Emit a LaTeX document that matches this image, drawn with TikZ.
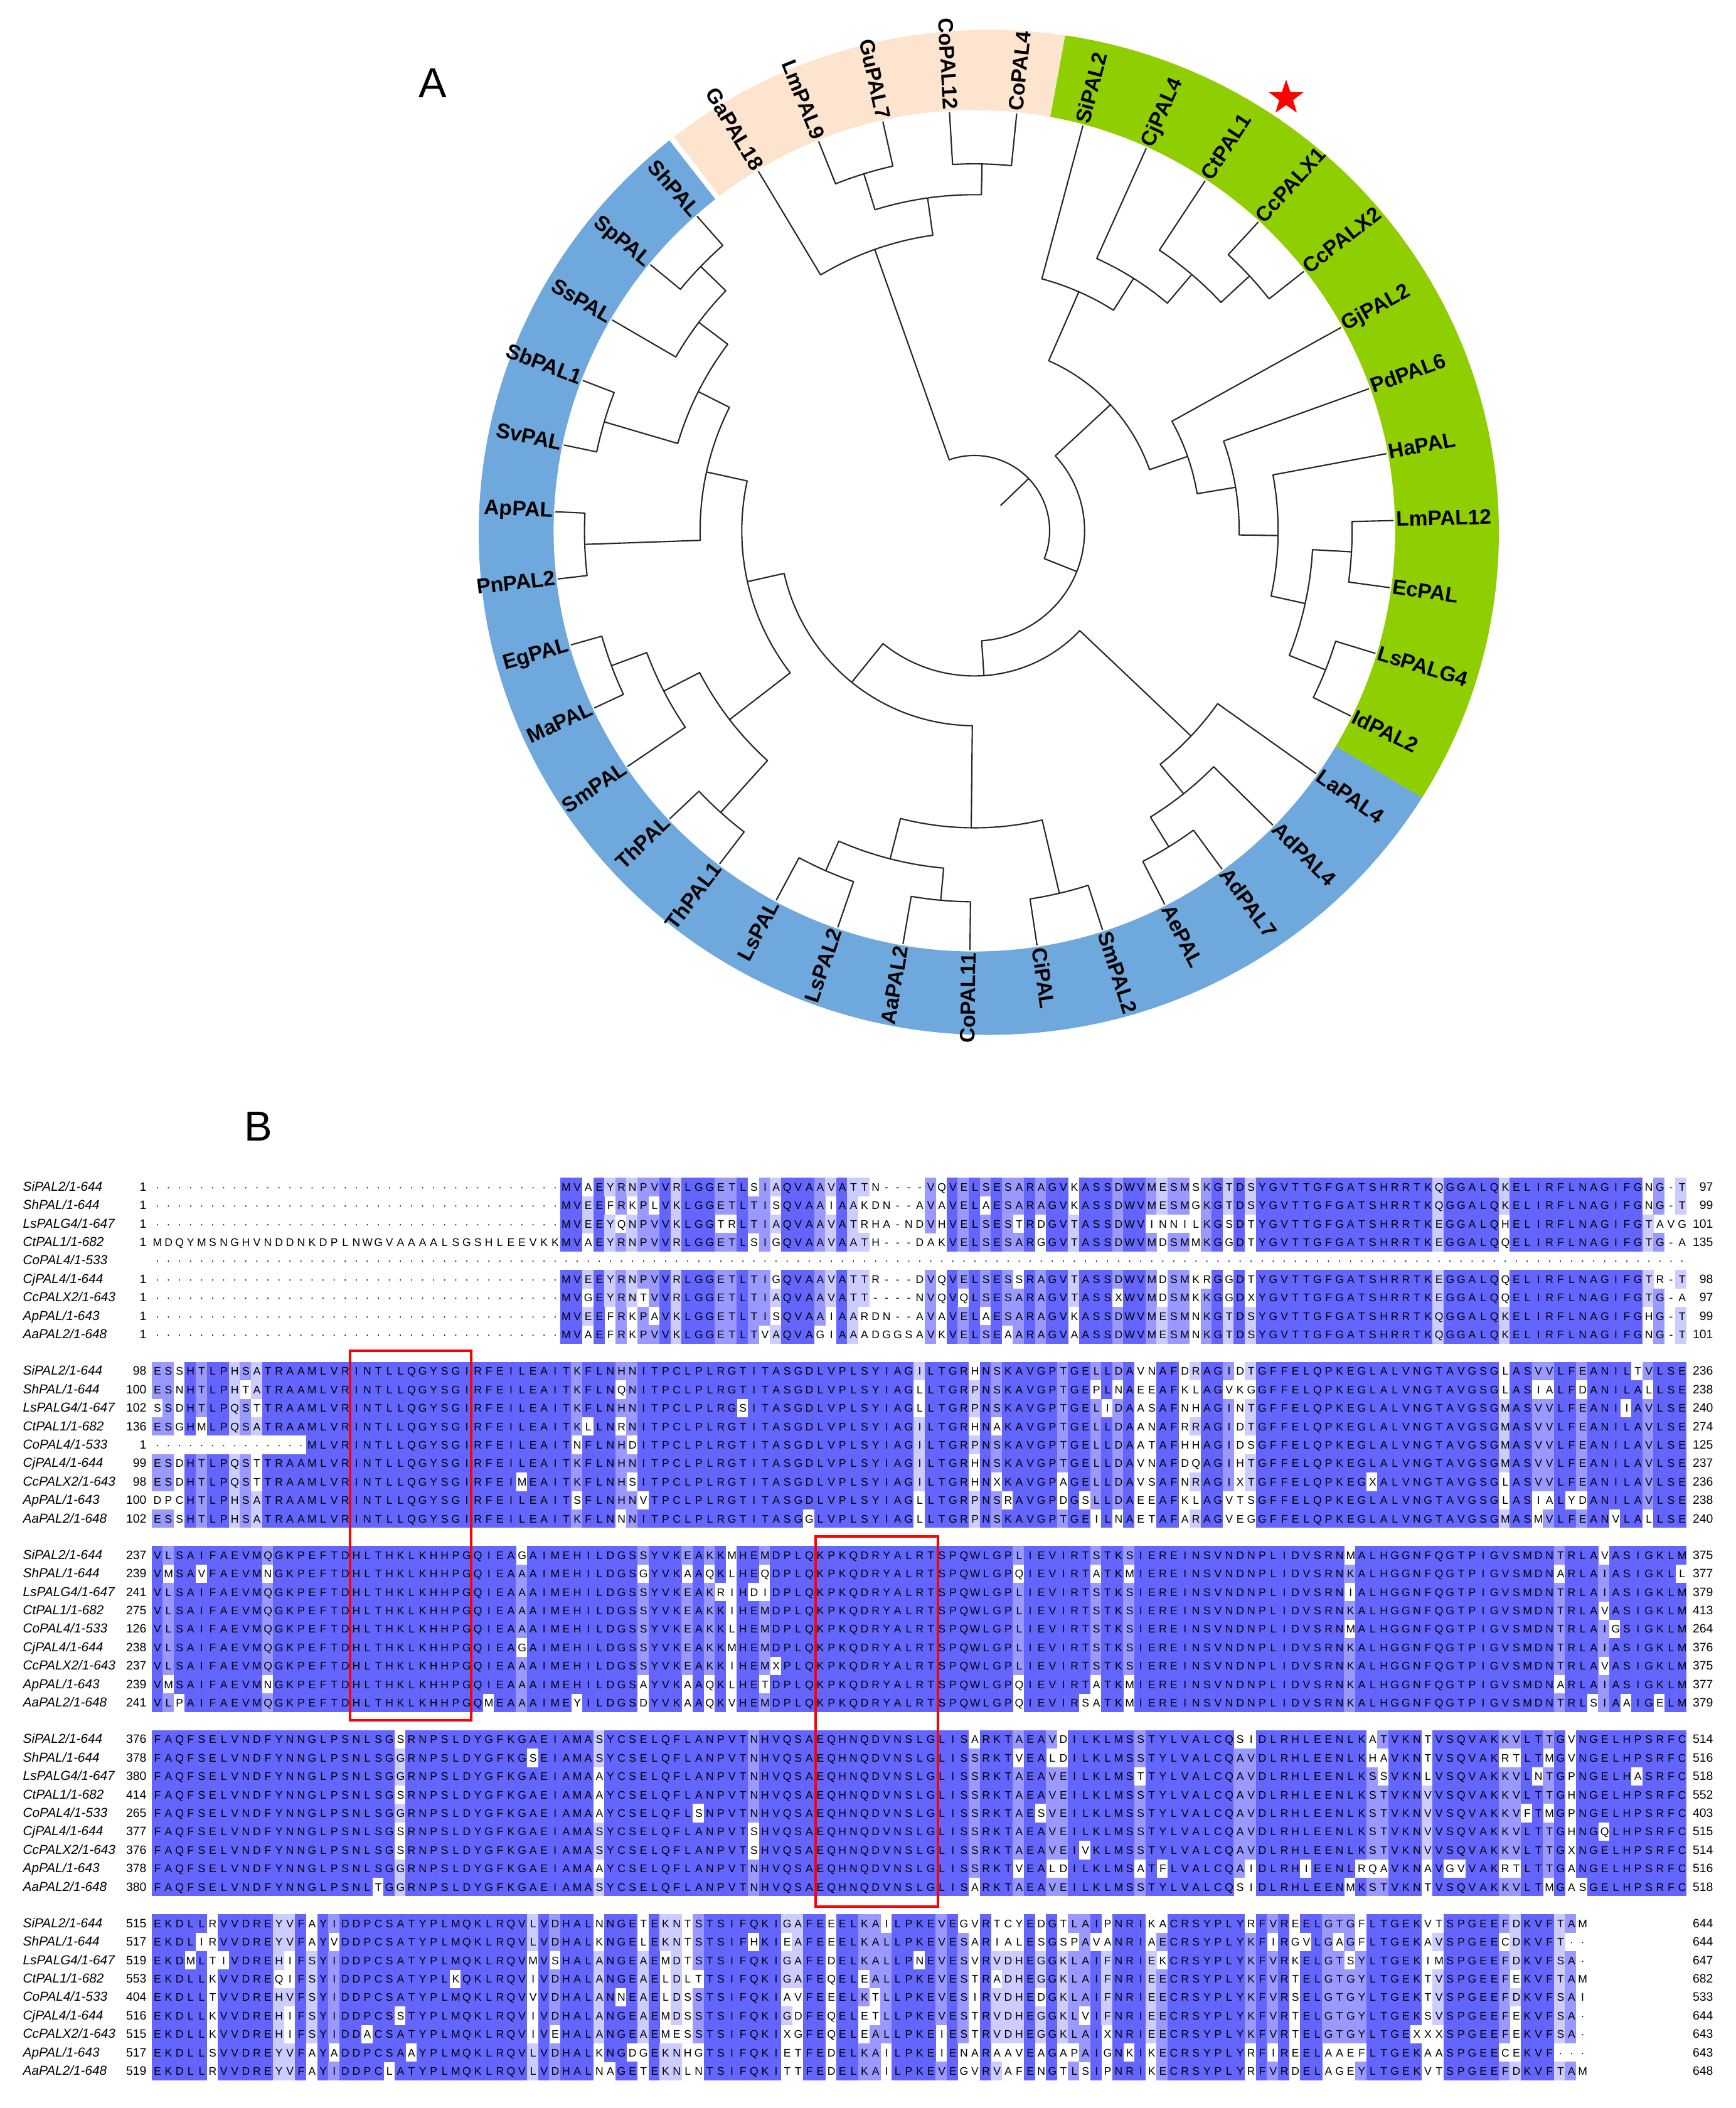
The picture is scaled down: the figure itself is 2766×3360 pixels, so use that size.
\documentclass[tikz,border=0pt]{standalone}
\usepackage{fontspec}
\setmainfont{Liberation Sans}
\usetikzlibrary{shapes.geometric}

\definecolor{pidA}{RGB}{100,100,255}
\definecolor{pidB}{RGB}{153,153,255}
\definecolor{pidC}{RGB}{204,204,255}
\definecolor{ringO}{RGB}{252,228,206}
\definecolor{ringG}{RGB}{143,206,0}
\definecolor{ringB}{RGB}{111,168,220}

\ExplSyntaxOn
\int_new:N \l_aln_i_int
\int_new:N \l_aln_cnt_int
\int_new:N \l_aln_max_int
\int_new:N \l_aln_col_int
\int_new:N \l_aln_run_int
\int_new:N \l_aln_rs_int
\tl_new:N \l_aln_cmd_tl
\tl_new:N \l_aln_seq_tl
\tl_new:N \l_aln_c_tl
\tl_new:N \l_aln_r_tl
\tl_new:N \l_aln_s_tl
\dim_new:N \l_aln_pitch_dim
\dim_set:Nn \l_aln_pitch_dim {0.176cm}
\fp_const:Nn \c_aln_xzero_fp {241.5}
\fp_const:Nn \c_aln_pitch_fp {17.6}
\fp_const:Nn \c_aln_rowh_fp {29.4}

\cs_new:Npn \GapDots #1 { \prg_replicate:nn {#1} {.} }

\cs_new_protected:Npn \aln_set:nnn #1#2#3
  {
    \tl_set:Nx \l_aln_seq_tl {#3}
    \int_zero:N \l_aln_i_int
    \tl_map_inline:Nn \l_aln_seq_tl
      {
        \int_incr:N \l_aln_i_int
        \cs_gset_nopar:cpn { aln@#1@#2@ \int_use:N \l_aln_i_int } {##1}
      }
  }
\NewDocumentCommand \AlnSet {mmm} { \aln_set:nnn {#1}{#2}{#3} }

\cs_new:Npn \aln_ch:nnn #1#2#3 { \cs:w aln@#1@#2@#3 \cs_end: }

\prg_new_conditional:Npnn \aln_if_gap:n #1 { T, F, TF }
  {
    \str_if_eq:eeTF {#1} {.} { \prg_return_true: }
      { \str_if_eq:eeTF {#1} {-} { \prg_return_true: } { \prg_return_false: } }
  }

\cs_new_protected:Npn \aln_compute:nn #1#2
  {
    \int_step_variable:nNn {#2} \l_aln_c_tl
      {
        \int_zero:N \l_aln_max_int
        \int_step_variable:nNn {9} \l_aln_r_tl
          {
            \int_zero:N \l_aln_cnt_int
            \aln_if_gap:nF { \aln_ch:nnn {#1} {\l_aln_r_tl} {\l_aln_c_tl} }
              {
                \int_step_variable:nNn {9} \l_aln_s_tl
                  {
                    \str_if_eq:eeT
                      { \aln_ch:nnn {#1} {\l_aln_r_tl} {\l_aln_c_tl} }
                      { \aln_ch:nnn {#1} {\l_aln_s_tl} {\l_aln_c_tl} }
                      { \int_incr:N \l_aln_cnt_int }
                  }
              }
            \cs_gset_nopar:cpx { alncnt@ \l_aln_r_tl } { \int_use:N \l_aln_cnt_int }
            \int_compare:nNnT { \l_aln_cnt_int } > { \l_aln_max_int }
              { \int_set_eq:NN \l_aln_max_int \l_aln_cnt_int }
          }
        \int_step_variable:nNn {9} \l_aln_r_tl
          {
            \int_zero:N \l_aln_col_int
            \int_compare:nNnT { \use:c { alncnt@ \l_aln_r_tl } } = { \l_aln_max_int }
              {
                \int_set:Nn \l_aln_col_int
                  {
                    \int_compare:nNnTF { \l_aln_max_int } > { 7 } { 1 }
                      {
                        \int_compare:nNnTF { \l_aln_max_int } > { 5 } { 2 }
                          { \int_compare:nNnTF { \l_aln_max_int } > { 3 } { 3 } { 0 } }
                      }
                  }
              }
            \cs_gset_nopar:cpx { alncol@#1@ \l_aln_r_tl @ \l_aln_c_tl } { \int_use:N \l_aln_col_int }
          }
      }
  }

\cs_new_protected:Npn \aln_fill:nnnn #1#2#3#4
  {
    \tl_set:Nx \l_aln_cmd_tl
      {
        \exp_not:N \fill [ \int_case:nn {#1} { {1}{pidA} {2}{pidB} {3}{pidC} } ]
          ( \fp_eval:n { \c_aln_xzero_fp + (#2 - 1) * \c_aln_pitch_fp } ,
            \fp_eval:n { #4 - 14.75 } )
          rectangle
          ( \fp_eval:n { \c_aln_xzero_fp + (#3 - 1) * \c_aln_pitch_fp + 0.4 } ,
            \fp_eval:n { #4 + 14.75 } ) ;
      }
    \tl_use:N \l_aln_cmd_tl
  }

\cs_new_protected:Npn \aln_bg:nnn #1#2#3
  {
    \int_step_variable:nNn {9} \l_aln_r_tl
      {
        \int_zero:N \l_aln_run_int
        \int_set:Nn \l_aln_rs_int {1}
        \int_step_variable:nNn {#2+1} \l_aln_c_tl
          {
            \int_compare:nNnTF { \l_aln_c_tl } > {#2}
              { \int_zero:N \l_aln_col_int }
              { \int_set:Nn \l_aln_col_int { \use:c { alncol@#1@ \l_aln_r_tl @ \l_aln_c_tl } } }
            \int_compare:nNnF { \l_aln_col_int } = { \l_aln_run_int }
              {
                \int_compare:nNnF { \l_aln_run_int } = { 0 }
                  {
                    \aln_fill:nnnn { \l_aln_run_int } { \l_aln_rs_int } { \l_aln_c_tl }
                      { #3 + ( \l_aln_r_tl - 1 ) * \c_aln_rowh_fp }
                  }
                \int_set_eq:NN \l_aln_run_int \l_aln_col_int
                \int_set:Nn \l_aln_rs_int { \l_aln_c_tl }
              }
          }
      }
  }
\NewDocumentCommand \AlnBlock {mmm} { \aln_compute:nn {#1}{#2} \aln_bg:nnn {#1}{#2}{#3} }

\cs_new:Npn \aln_glyph:n #1 { \str_if_eq:nnTF {#1} {.} { \char"B7 } {#1} }
\cs_new_protected:Npn \aln_text:nnn #1#2#3
  {
    \int_step_inline:nn {#3}
      {
        \hbox_to_wd:nn { \l_aln_pitch_dim }
          { \hfil \exp_args:Ne \aln_glyph:n { \aln_ch:nnn {#1} {#2} {##1} } \hfil }
      }
  }
\NewDocumentCommand \AlnText {mmm} { \aln_text:nnn {#1}{#2}{#3} }
\ExplSyntaxOff

% ---------------- sequences ----------------
\AlnSet{1}{1}{\GapDots{37}MVAEYRNPVVRLGGETLSIAQVAAVATTN----VQVELSESARAGVKASSDWVMESMSKGTDSYGVTTGFGATSHRRTKQGGALQKELIRFLNAGIFGNG-T}
\AlnSet{1}{2}{\GapDots{37}MVEEFRKPLVKLGGETLTISQVAAIAAKDN--AVAVELAESARAGVKASSDWVMESMGKGTDSYGVTTGFGATSHRRTKQGGALQKELIRFLNAGIFGNG-T}
\AlnSet{1}{3}{\GapDots{37}MVEEYQNPVVKLGGTRLTIAQVAAVATRHA-NDVHVELSESTRDGVTASSDWVINNILKGSDTYGVTTGFGATSHRRTKEGGALQHELIRFLNAGIFGTAVG}
\AlnSet{1}{4}{MDQYMSNGHVNDDNKDPLNWGVAAAALSGSHLEEVKKMVAEYRNPVVRLGGETLSIGQVAAVAATH---DAKVELSESARGGVTASSDWVMDSMMKGGDTYGVTTGFGATSHRRTKEGGALQQELIRFLNAGIFGTG-A}
\AlnSet{1}{5}{\GapDots{139}}
\AlnSet{1}{6}{\GapDots{37}MVEEYRNPVVRLGGETLTIGQVAAVATTR---DVQVELSESSRAGVTASSDWVMDSMKRGGDTYGVTTGFGATSHRRTKEGGALQQELIRFLNAGIFGTR-T}
\AlnSet{1}{7}{\GapDots{37}MVGEYRNTVVRLGGETLTIAQVAAVATT----NVQVQLSESARAGVTASSXWVMDSMKKGGDXYGVTTGFGATSHRRTKEGGALQQELIRFLNAGIFGTG-A}
\AlnSet{1}{8}{\GapDots{37}MVEEFRKPAVKLGGETLTISQVAAIAARDN--AVAVELAESARAGVKASSDWVMESMNKGTDSYGVTTGFGATSHRRTKQGGALQKELIRFLNAGIFGHG-T}
\AlnSet{1}{9}{\GapDots{37}MVAEFRKPVVKLGGETLTVAQVAGIAAADGGSAVKVELSEAARAGVAASSDWVMESMNKGTDSYGVTTGFGATSHRRTKQGGALQKELIRFLNAGIFGNG-T}

\AlnSet{2}{1}{ESSHTLPHSATRAAMLVRINTLLQGYSGIRFEILEAITKFLNHNITPCLPLRGTITASGDLVPLSYIAGILTGRHNSKAVGPTGELLDAVNAFDRAGIDTGFFELQPKEGLALVNGTAVGSGLASVVLFEANILTVLSE}
\AlnSet{2}{2}{ESNHTLPHTATRAAMLVRINTLLQGYSGIRFEILEAITKFLNQNITPCLPLRGTITASGDLVPLSYIAGLLTGRPNSKAVGPTGEPLNAEEAFKLAGVKGGFFELQPKEGLALVNGTAVGSGLASIALFDANILALLSE}
\AlnSet{2}{3}{SSDHTLPQSTTRAAMLVRINTLLQGYSGIRFEILEAITKFLNHNITPCLPLRGSITASGDLVPLSYIAGLLTGRPNSKAVGPTGELIDAASAFNHAGINTGFFELQPKEGLALVNGTAVGSGMASVVLFEANIIAVLSE}
\AlnSet{2}{4}{ESGHMLPQSATRAAMLVRINTLLQGYSGIRFEILEAITKLLNRNITPCLPLRGTITASGDLVPLSYIAGILTGRHNAKAVGPTGELLDAANAFRRAGIDTGFFELQPKEGLALVNGTAVGSGMASVVLFEANILAVLSE}
\AlnSet{2}{5}{\GapDots{14}MLVRINTLLQGYSGIRFEILEAITNFLNHDITPCLPLRGTITASGDLVPLSYIAGILTGRPNSKAVGPTGELLDAATAFHHAGIDSGFFELQPKEGLALVNGTAVGSGMASVVLFEANILAVLSE}
\AlnSet{2}{6}{ESDHTLPQSTTRAAMLVRINTLLQGYSGIRFEILEAITKFLNHNITPCLPLRGTITASGDLVPLSYIAGILTGRHNSKAVGPTGELLDAVNAFDQAGIHTGFFELQPKEGLALVNGTAVGSGMASVVLFEANILAVLSE}
\AlnSet{2}{7}{ESDHTLPQSTTRAAMLVRINTLLQGYSGIRFEIMEAITKFLNHSITPCLPLRGTITASGDLVPLSYIAGILTGRHNXKAVGPAGELLDAVSAFNRAGIXTGFFELQPKEGXALVNGTAVGSGLASVVLFEANILAVLSE}
\AlnSet{2}{8}{DPCHTLPHSATRAAMLVRINTLLQGYSGIRFEILEAITSFLNHNVTPCLPLRGTITASGDLVPLSYIAGLLTGRPNSRAVGPDGSLLDAEEAFKLAGVTSGFFELQPKEGLALVNGTAVGSGLASIALYDANILAVLSE}
\AlnSet{2}{9}{ESSHTLPHSATRAAMLVRINTLLQGYSGIRFEILEAITKFLNNNITPCLPLRGTITASGGLVPLSYIAGLLTGRPNSKAVGPTGEILNAETAFARAGVEGGFFELQPKEGLALVNGTAVGSGMASMVLFEANVLALLSE}

\AlnSet{3}{1}{VLSAIFAEVMQGKPEFTDHLTHKLKHHPGQIEAGAIMEHILDGSSYVKEAKKMHEMDPLQKPKQDRYALRTSPQWLGPLIEVIRTSTKSIEREINSVNDNPLIDVSRNMALHGGNFQGTPIGVSMDNTRLAVASIGKLM}
\AlnSet{3}{2}{VMSAVFAEVMNGKPEFTDHLTHKLKHHPGQIEAAAIMEHILDGSGYVKAAQKLHEQDPLQKPKQDRYALRTSPQWLGPQIEVIRTATKMIEREINSVNDNPLIDVSRNKALHGGNFQGTPIGVSMDNARLAIASIGKLL}
\AlnSet{3}{3}{VLSAIFAEVMQGKPEFTDHLTHKLKHHPGQIEAAAIMEHILDGSSYVKEAKRIHDIDPLQKPKQDRYALRTSPQWLGPLIEVIRTSTKSIEREINSVNDNPLIDVSRNIALHGGNFQGTPIGVSMDNTRLAIASIGKLM}
\AlnSet{3}{4}{VLSAIFAEVMQGKPEFTDHLTHKLKHHPGQIEAAAIMEHILDGSSYVKEAKKIHEMDPLQKPKQDRYALRTSPQWLGPLIEVIRTSTKSIEREINSVNDNPLIDVSRNKALHGGNFQGTPIGVSMDNTRLAVASIGKLM}
\AlnSet{3}{5}{VLSAIFAEVMQGKPEFTDHLTHKLKHHPGQIEAAAIMEHILDGSSYVKEAKKLHEMDPLQKPKQDRYALRTSPQWLGPLIEVIRTSTKSIEREINSVNDNPLIDVSRNMALHGGNFQGTPIGVSMDNTRLAIGSIGKLM}
\AlnSet{3}{6}{VLSAIFAEVMQGKPEFTDHLTHKLKHHPGQIEAGAIMEHILDGSSYVKEAKKMHEMDPLQKPKQDRYALRTSPQWLGPLIEVIRTSTKSIEREINSVNDNPLIDVSRNKALHGGNFQGTPIGVSMDNTRLAIASIGKLM}
\AlnSet{3}{7}{VLSAIFAEVMQGKPEFTDHLTHKLKHHPGQIEAAAIMEHILDGSSYVKEAKKIHEMXPLQKPKQDRYALRTSPQWLGPLIEVIRTSTKSIEREINSVNDNPLIDVSRNKALHGGNFQGTPIGVSMDNTRLAVASIGKLM}
\AlnSet{3}{8}{VMSAIFAEVMNGKPEFTDHLTHKLKHHPGQIEAAAIMEHILDGSAYVKAAQKLHETDPLQKPKQDRYALRTSPQWLGPQIEVIRTATKMIEREINSVNDNPLIDVSRNKALHGGNFQGTPIGVSMDNARLAIASIGKLM}
\AlnSet{3}{9}{VLPAIFAEVMQGKPEFTDHLTHKLKHHPGQMEAAAIMEYILDGSDYVKAAQKVHEMDPLQKPKQDRYALRTSPQWLGPQIEVIRSATKMIEREINSVNDNPLIDVSRNKALHGGNFQGTPIGVSMDNTRLSIAAIGELM}

\AlnSet{4}{1}{FAQFSELVNDFYNNGLPSNLSGSRNPSLDYGFKGAEIAMASYCSELQFLANPVTNHVQSAEQHNQDVNSLGLISARKTAEAVDILKLMSSTYLVALCQSIDLRHLEENLKATVKNTVSQVAKKVLTTGVNGELHPSRFC}
\AlnSet{4}{2}{FAQFSELVNDFYNNGLPSNLSGGRNPSLDYGFKGSEIAMASYCSELQFLANPVTNHVQSAEQHNQDVNSLGLISSRKTVEALDILKLMSSTYLVALCQAVDLRHLEENLKHAVKNTVSQVAKRTLTMGVNGELHPSRFC}
\AlnSet{4}{3}{FAQFSELVNDFYNNGLPSNLSGGRNPSLDYGFKGAEIAMAAYCSELQFLANPVTNHVQSAEQHNQDVNSLGLISSRKTAEAVEILKLMSTTYLVALCQAVDLRHLEENLKSSVKNLVSQVAKKVLNTGPNGELHASRFC}
\AlnSet{4}{4}{FAQFSELVNDFYNNGLPSNLSGSRNPSLDYGFKGAEIAMAAYCSELQFLANPVTNHVQSAEQHNQDVNSLGLISSRKTAEAVEILKLMSSTYLVALCQAVDLRHLEENLKSTVKNVVSQVAKKVLTTGHNGELHPSRFC}
\AlnSet{4}{5}{FAQFSELVNDFYNNGLPSNLSGGRNPSLDYGFKGAEIAMAAYCSELQFLSNPVTNHVQSAEQHNQDVNSLGLISSRKTAESVEILKLMSSTYLVALCQAVDLRHLEENLKSTVKNVVSQVAKKVFTMGPNGELHPSRFC}
\AlnSet{4}{6}{FAQFSELVNDFYNNGLPSNLSGSRNPSLDYGFKGAEIAMASYCSELQFLANPVTSHVQSAEQHNQDVNSLGLISSRKTAEAVEILKLMSSTYLVALCQAVDLRHLEENLKSTVKNVVSQVAKKVLTTGHNGQLHPSRFC}
\AlnSet{4}{7}{FAQFSELVNDFYNNGLPSNLSGSRNPSLDYGFKGAEIAMASYCSELQFLANPVTSHVQSAEQHNQDVNSLGLISSRKTAEAVEIVKLMSSTYLVALCQAVDLRHLEENLKSTVKNVVSQVAKKVLTTGXNGELHPSRFC}
\AlnSet{4}{8}{FAQFSELVNDFYNNGLPSNLSGGRNPSLDYGFKGAEIAMAAYCSELQFLANPVTNHVQSAEQHNQDVNSLGLISSRKTVEALDILKLMSATFLVALCQAIDLRHIEENLRQAVKNAVGVVAKRTLTTGANGELHPSRFC}
\AlnSet{4}{9}{FAQFSELVNDFYNNGLPSNLTGGRNPSLDYGFKGAEIAMASYCSELQFLANPVTNHVQSAEQHNQDVNSLGLISARKTAEAVEILKLMSSTYLVALCQSIDLRHLEENMKSTVKNTVSQVAKKVLTMGASGELHPSRFC}

\AlnSet{5}{1}{EKDLLRVVDREYVFAYIDDPCSATYPLMQKLRQVLVDHALNNGETEKNTSTSIFQKIGAFEEELKAILPKEVEGVRTCYEDGTLAIPNRIKACRSYPLYRFVREELGTGFLTGEKVTSPGEEFDKVFTAM}
\AlnSet{5}{2}{EKDLIRVVDREYVFAYVDDPCSATYPLMQKLRQVLVDHALKNGELEKNTSTSIFHKIEAFEEELKALLPKEVESARIALESGSPAVANRIAECRSYPLYKFIRGVLGAGFLTGEKAVSPGEECDKVFT\GapDots{2}}
\AlnSet{5}{3}{EKDMLTIVDREHIFSYIDDPCSATYPLMQKLRQVMVSHALANGEAEMDTSTSIFQKIGAFEDELKALLPNEVESVRVDHEGGKLAIFNRIEKCRSYPLYKFVRKELGTSYLTGEKIMSPGEEFDKVFSA\GapDots{1}}
\AlnSet{5}{4}{EKDLLKVVDREQIFSYIDDPCSATYPLKQKLRQVIVDHALANGEAELDLTTSIFQKIGAFEQELEALLPKEVESTRADHEGGKLAIFNRIEECRSYPLYKFVRTELGTGYLTGEKTVSPGEEFEKVFTAM}
\AlnSet{5}{5}{EKDLLTVVDREHVFSYIDDPCSATYPLMQKLRQVVVDHALANNEAELDSSTSIFQKIAVFEEELKTLLPKEVESIRVDHEDGKLAIFNRIEECRSYPLYKFVRSELGTGYLTGEKTVSPGEEFDKVFSAI}
\AlnSet{5}{6}{EKDLLKVVDREHIFSYIDDPCSSTYPLMQKLRQVIVDHALANGEAEMDSSTSIFQKIGDFEQELETLLPKEVESTRVDHEGGKLVIFNRIEECRSYPLYKFVRTELGTGYLTGEKSVSPGEEFEKVFSA\GapDots{1}}
\AlnSet{5}{7}{EKDLLKVVDREHIFSYIDDACSATYPLMQKLRQVIVEHALANGEAEMESSTSIFQKIXGFEQELEALLPKEIESTRVDHEGGKLAIXNRIEECRSYPLYKFVRTELGTGYLTGEXXXSPGEEFEKVFSA\GapDots{1}}
\AlnSet{5}{8}{EKDLLSVVDREYVFAYADDPCSAAYPLMQKLRQVLVDHALKNGDGEKNHGTSIFQKIETFEDELKAILPKEIENARAAVEAGAPAIGNKIKECRSYPLYRFIREELAAEFLTGEKAASPGEECEKVF\GapDots{3}}
\AlnSet{5}{9}{EKDLLRVVDREYVFAYIDDPCLATYPLMQKLRQVLVDHALNAGETEKNLNTSIFQKITTFEDELKAILPKEVEGVRVAFENGTLSIPNRIKECRSYPLYRFVRDELAGEYLTGEKVTSPGEEFDKVFTAM}

\tikzset{
  seqtxt/.style={anchor=base west, inner sep=0pt, font=\fontsize{5}{6}\selectfont},
  nametxt/.style={anchor=base west, inner sep=0pt, font=\fontsize{5.9}{7}\selectfont\itshape},
  numtxt/.style={anchor=base east, inner sep=0pt, font=\fontsize{5.5}{7}\selectfont},
  branch/.style={line width=0.6pt, draw=black!85, line join=round},
  leaflab/.style={inner sep=0pt, font=\fontsize{9.5}{11}\selectfont\bfseries},
  redbox/.style={draw=red, line width=1.1pt},
  panel/.style={inner sep=0pt, font=\fontsize{19}{22}\selectfont},
}

\newcommand\DrawBlock[4]{%
  \AlnBlock{#1}{#2}{#3}
  \foreach \k in {1,...,9} {
    \node[seqtxt] (s#1r\k) at (241.5, {#3+29.4*(\k-1)+6.3}) {\AlnText{#1}{\k}{#2}};
  }
  \foreach \nm [count=\k from 0] in {SiPAL2/1-644, ShPAL/1-644, LsPALG4/1-647, CtPAL1/1-682, CoPAL4/1-533, CjPAL4/1-644, CcPALX2/1-643, ApPAL/1-643, AaPAL2/1-648} {
    \node[nametxt] (n#1r\k) at (36, {#3+29.4*\k+6.3}) {\nm};
  }
  \foreach \s/\e [count=\k from 0] in {#4} {
    \node[numtxt] (a#1r\k) at (234, {#3+29.4*\k+6.3}) {\s};
    \node[numtxt] (b#1r\k) at (2731, {#3+29.4*\k+6.3}) {\e};
  }
}

% tree helpers
\newcommand\leaf[2]{%
  \expandafter\xdef\csname ta@#1\endcsname{#2}%
  \coordinate (#1) at (#2:668.5);
  \pgfmathtruncatemacro\isright{cos(#2)>=0}%
  \ifnum\isright=1
    \node[leaflab, anchor=mid west, rotate=#2] (lab#1) at (#2:672) {#1};
  \else
    \pgfmathsetmacro\rotang{#2+180}%
    \node[leaflab, anchor=mid east, rotate=\rotang] (lab#1) at (#2:672) {#1};
  \fi}
\newcommand\tnode[4]{%
  \edef\tca{\csname ta@#2\endcsname}\edef\tcb{\csname ta@#3\endcsname}%
  \pgfmathsetmacro\tcm{(\tca+\tcb)/2}%
  \expandafter\xdef\csname ta@#1\endcsname{\tcm}%
  \coordinate (#1) at (\tcm:#4);
  \coordinate (#1-s) at (\tca:#4);
  \coordinate (#1-e) at (\tcb:#4);
  \draw[branch] (#2) -- (#1-s) arc[start angle=\tca, end angle=\tcb, radius=#4] -- (#3);
}

\begin{document}
\begin{tikzpicture}[x=0.01cm, y=-0.01cm]
\useasboundingbox (0,0) rectangle (2766,3360);
\fill[white] (0,0) rectangle (2766,3360);

\node[panel] (panelA) at (690,133) {A};
\node[panel] (panelB) at (412,1795) {B};

% ---------------- tree ----------------
\begin{scope}[shift={(1553,846)}, x=0.01cm, y=0.01cm]
  \foreach \a/\b/\c in {127.3/79.6/ringO, 79.6/-30.8/ringG, -30.8/-232.0/ringB}{
    \begin{scope}
      \clip (0,0) -- (\a:1300) arc[start angle=\a, end angle=\b, radius=1300] -- cycle;
      \fill[\c, even odd rule] (23,-2.5) ellipse[x radius=813, y radius=801] (0,0) circle[radius=670.6];
    \end{scope}
  }
  \leaf{GaPAL18}{121.0}
  \leaf{LmPAL9}{111.8}
  \leaf{GuPAL7}{102.6}
  \leaf{CoPAL12}{93.4}
  \leaf{CoPAL4}{84.2}
  \leaf{SiPAL2}{75.0}
  \leaf{CjPAL4}{65.8}
  \leaf{CtPAL1}{56.6}
  \leaf{CcPALX1}{47.4}
  \leaf{CcPALX2}{38.2}
  \leaf{GjPAL2}{29.0}
  \leaf{PdPAL6}{19.8}
  \leaf{HaPAL}{10.6}
  \leaf{LmPAL12}{1.4}
  \leaf{EcPAL}{-7.8}
  \leaf{LsPALG4}{-17.0}
  \leaf{IdPAL2}{-26.2}
  \leaf{LaPAL4}{-35.4}
  \leaf{AdPAL4}{-44.6}
  \leaf{AdPAL7}{-53.8}
  \leaf{AePAL}{-63.0}
  \leaf{SmPAL2}{-72.2}
  \leaf{CiPAL}{-81.4}
  \leaf{CoPAL11}{-90.6}
  \leaf{AaPAL2}{-99.8}
  \leaf{LsPAL2}{-109.0}
  \leaf{LsPAL}{-118.2}
  \leaf{ThPAL1}{-127.4}
  \leaf{ThPAL}{-136.6}
  \leaf{SmPAL}{-145.8}
  \leaf{MaPAL}{-155.0}
  \leaf{EgPAL}{-164.2}
  \leaf{PnPAL2}{-173.4}
  \leaf{ApPAL}{-182.6}
  \leaf{SvPAL}{-191.8}
  \leaf{SbPAL1}{-201.0}
  \leaf{SsPAL}{-210.2}
  \leaf{SpPAL}{-219.4}
  \leaf{ShPAL}{-228.6}

  \tnode{O2}{LmPAL9}{GuPAL7}{595.6}
  \tnode{O3}{CoPAL12}{CoPAL4}{584.9}
  \tnode{O1}{O2}{O3}{535.7}
  \tnode{O}{GaPAL18}{O1}{475.7}
  \tnode{Cc}{CcPALX1}{CcPALX2}{597.8}
  \tnode{G4}{CtPAL1}{Cc}{535.7}
  \tnode{G3}{CjPAL4}{G4}{475.7}
  \tnode{G2}{SiPAL2}{G3}{415.7}
  \tnode{G9}{LmPAL12}{EcPAL}{602.1}
  \tnode{G10}{LsPALG4}{IdPAL2}{602.1}
  \tnode{G8}{G9}{G10}{539.9}
  \tnode{G7}{HaPAL}{G8}{484.2}
  \tnode{G6}{PdPAL6}{G7}{422.1}
  \tnode{G5}{GjPAL2}{G6}{360}
  \tnode{G1}{G2}{G5}{295.7}
  \tnode{B1b}{AdPAL7}{AePAL}{591.4}
  \tnode{B1a}{AdPAL4}{B1b}{535.7}
  \tnode{B1}{LaPAL4}{B1a}{475.7}
  \tnode{B2a}{SmPAL2}{CiPAL}{593.5}
  \tnode{B2c}{CoPAL11}{AaPAL2}{591.4}
  \tnode{B2d}{LsPAL2}{LsPAL}{591.4}
  \tnode{B2e}{B2c}{B2d}{539.9}
  \tnode{B2}{B2a}{B2e}{473.5}
  \tnode{T1}{ThPAL1}{ThPAL}{604.2}
  \tnode{T3}{MaPAL}{EgPAL}{617.1}
  \tnode{T2}{SmPAL}{T3}{557.1}
  \tnode{T}{T1}{T2}{492.8}
  \tnode{V1}{PnPAL2}{ApPAL}{621.4}
  \tnode{U1}{SvPAL}{SbPAL1}{614.9}
  \tnode{U3}{SpPAL}{ShPAL}{606.4}
  \tnode{U2}{SsPAL}{U3}{550.7}
  \tnode{U}{U1}{U2}{492.8}
  \tnode{V}{V1}{U}{437.1}
  \tnode{W}{T}{V}{370.7}
  \tnode{Z}{B2}{W}{310.7}
  \tnode{Y}{B1}{Z}{231.4}
  \tnode{X}{G1}{Y}{175.7}
  \tnode{R}{O}{X}{120}
  \coordinate (Rin) at (\csname ta@R\endcsname:57.9);
  \draw[branch] (Rin) -- (R);

  \node[star, star points=5, star point ratio=2.5, fill=red, draw=none, inner sep=0pt, minimum size=16.5pt] (redstar) at (497,690) {};
\end{scope}

% ---------------- alignment ----------------
\DrawBlock{1}{139}{1892}{1/97, 1/99, 1/101, 1/135, {}/{}, 1/98, 1/97, 1/99, 1/101}
\DrawBlock{2}{139}{2185.5}{98/236, 100/238, 102/240, 136/274, 1/125, 99/237, 98/236, 100/238, 102/240}
\DrawBlock{3}{139}{2479}{237/375, 239/377, 241/379, 275/413, 126/264, 238/376, 237/375, 239/377, 241/379}
\DrawBlock{4}{139}{2772.5}{376/514, 378/516, 380/518, 414/552, 265/403, 377/515, 376/514, 378/516, 380/518}
\DrawBlock{5}{130}{3066}{515/644, 517/644, 519/647, 553/682, 404/533, 516/644, 515/643, 517/643, 519/648}

\draw[redbox] (558,2153) rectangle (751,2742);
\draw[redbox] (1300,2449) rectangle (1495,3039);
\end{tikzpicture}
\end{document}
